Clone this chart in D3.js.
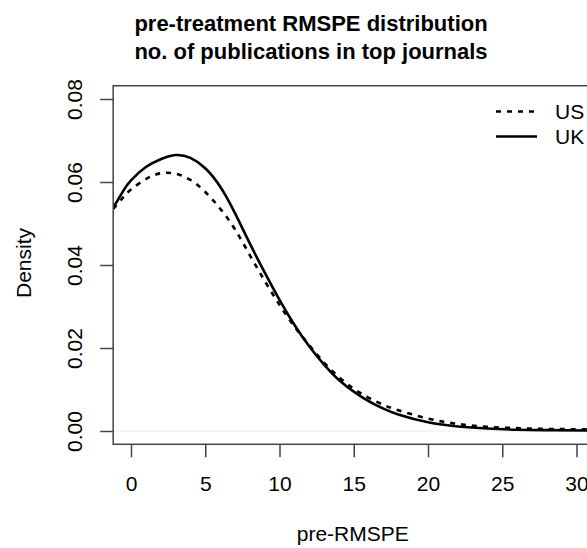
<!DOCTYPE html>
<html>
<head>
<meta charset="utf-8">
<script src="https://cdn.jsdelivr.net/npm/d3@7"></script>
<style>
  body { margin: 0; background: #fff; }
  text { font-family: "Liberation Sans", Arial, Helvetica, sans-serif; fill: #000; }
</style>
</head>
<body>
<svg id="chart" width="587" height="548"></svg>
<script>
// values
const xGrid = [-1.2, -0.5, 0, 1, 2, 3, 4, 5, 6, 7, 8, 9, 10, 11, 12, 13, 14, 15, 16, 17, 18, 20, 22, 24, 26, 28, 31.2];
const usDensity = [0.0535, 0.0564, 0.0582, 0.0607, 0.0621, 0.0620, 0.0605, 0.0576, 0.0536, 0.0486, 0.0424, 0.0362, 0.0304, 0.0252, 0.0207, 0.0165, 0.0130, 0.0102, 0.0080, 0.0063, 0.0050, 0.0030, 0.0017, 0.0010, 0.0007, 0.0005, 0.0004];
const ukDensity = [0.0538, 0.0580, 0.0604, 0.0636, 0.0655, 0.0665, 0.0658, 0.0633, 0.0589, 0.0525, 0.0452, 0.0382, 0.0316, 0.0256, 0.0204, 0.0160, 0.0123, 0.0095, 0.0072, 0.0054, 0.0040, 0.0021, 0.0011, 0.0006, 0.0003, 0.0002, 0.0001];
const xTicks = [0, 5, 10, 15, 20, 25, 30];
const yTicks = [0, 0.02, 0.04, 0.06, 0.08];
const titleLines = ["pre-treatment RMSPE distribution", "no. of publications in top journals"];
const seriesNames = ["US", "UK"];

const svg = d3.select("#chart");

// R style: limits padded by 4%
const xlim = [0, 30], ylim = [0, 0.08];
const xpad = (xlim[1] - xlim[0]) * 0.04, ypad = (ylim[1] - ylim[0]) * 0.04;

const x = d3.scaleLinear().domain(xlim).range([131, 576.5]);
const y = d3.scaleLinear().domain(ylim).range([431, 99]);

const boxLeft = x(xlim[0] - xpad), boxRight = x(xlim[1] + xpad);
const boxTop = y(ylim[1] + ypad), boxBottom = y(ylim[0] - ypad);

svg.append("defs").append("clipPath").attr("id", "plotclip")
  .append("rect")
  .attr("x", boxLeft).attr("y", boxTop)
  .attr("width", boxRight - boxLeft).attr("height", boxBottom - boxTop);

// faint zero line
svg.append("line")
  .attr("x1", boxLeft).attr("x2", boxRight)
  .attr("y1", y(0)).attr("y2", y(0))
  .attr("stroke", "#ececec").attr("stroke-width", 1);

const line = d3.line()
  .x(d => x(d[0]))
  .y(d => y(d[1]))
  .curve(d3.curveNatural);

const curves = svg.append("g").attr("clip-path", "url(#plotclip)");

curves.append("path")
  .datum(xGrid.map((v, i) => [v, usDensity[i]]))
  .attr("d", line)
  .attr("fill", "none")
  .attr("stroke", "#000")
  .attr("stroke-width", 2.6)
  .attr("stroke-dasharray", "5,6");

curves.append("path")
  .datum(xGrid.map((v, i) => [v, ukDensity[i]]))
  .attr("d", line)
  .attr("fill", "none")
  .attr("stroke", "#000")
  .attr("stroke-width", 2.6);

// box
svg.append("rect")
  .attr("x", boxLeft).attr("y", boxTop)
  .attr("width", boxRight - boxLeft).attr("height", boxBottom - boxTop)
  .attr("fill", "none")
  .attr("stroke", "#444")
  .attr("stroke-width", 1.5);

// x axis
const xAxis = svg.append("g")
  .attr("transform", `translate(0,${boxBottom})`)
  .call(d3.axisBottom(x).tickValues(xTicks).tickSize(13).tickSizeOuter(0).tickFormat(d3.format("d")));
xAxis.select(".domain").remove();
xAxis.selectAll(".tick line").attr("stroke", "#444").attr("stroke-width", 1.5);
xAxis.selectAll(".tick text")
  .attr("y", 47).attr("dy", 0)
  .style("font-size", "21px");

// y axis
const yAxis = svg.append("g")
  .attr("transform", `translate(${boxLeft},0)`)
  .call(d3.axisLeft(y).tickValues(yTicks).tickSize(13).tickSizeOuter(0).tickFormat(d3.format(".2f")));
yAxis.select(".domain").remove();
yAxis.selectAll(".tick line").attr("stroke", "#444").attr("stroke-width", 1.5);
yAxis.selectAll(".tick text")
  .attr("x", 0).attr("y", 0).attr("dy", 0)
  .attr("text-anchor", "middle")
  .attr("transform", "translate(-31,0) rotate(-90)")
  .style("font-size", "21px");

// axis titles
svg.append("text")
  .attr("x", (boxLeft + boxRight) / 2 - 1).attr("y", 541)
  .attr("text-anchor", "middle")
  .style("font-size", "21px")
  .text("pre-RMSPE");

svg.append("text")
  .attr("transform", `translate(31,${(boxTop + boxBottom) / 2 - 2}) rotate(-90)`)
  .attr("text-anchor", "middle")
  .style("font-size", "21px")
  .text("Density");

// title
svg.selectAll(".title")
  .data(titleLines)
  .join("text")
  .attr("class", "title")
  .attr("x", 311)
  .attr("y", (d, i) => 31 + i * 28)
  .attr("text-anchor", "middle")
  .style("font-size", "22px")
  .style("font-weight", "bold")
  .text(d => d);

// legend
const legend = svg.append("g");
seriesNames.forEach((name, i) => {
  const ly = 111.5 + i * 25;
  legend.append("line")
    .attr("x1", 496).attr("x2", 537)
    .attr("y1", ly).attr("y2", ly)
    .attr("stroke", "#000").attr("stroke-width", 2.6)
    .attr("stroke-dasharray", name === "US" ? "5,6" : null);
  legend.append("text")
    .attr("x", 555).attr("y", ly + 7.5)
    .style("font-size", "21px")
    .text(name);
});
</script>
</body>
</html>
